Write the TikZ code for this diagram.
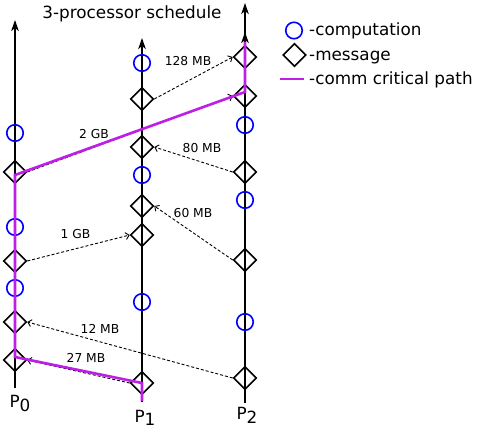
\documentclass[tikz,border=0pt]{standalone}
\usepackage{fontspec}
\setmainfont{DejaVu Sans}
\usetikzlibrary{shapes.geometric,arrows.meta}
\definecolor{crit}{RGB}{190,30,230}
\begin{document}
\begin{tikzpicture}[x=1pt,y=-1pt,
  comp/.style={circle,draw=blue,line width=1.6pt,minimum size=16.5pt,inner sep=0pt},
  msg/.style={diamond,draw=black,line width=1.6pt,minimum width=23pt,minimum height=23pt,inner sep=0pt},
  axis/.style={line width=1.7pt,-{Stealth[length=11pt,width=7.5pt,inset=3pt]}},
  sendarrow/.style={line width=0.9pt,dash pattern=on 3pt off 2pt,-{Straight Barb[length=3.5pt,width=7pt]}},
  critpath/.style={draw=crit,line width=2.6pt},
  lbl/.style={font=\fontsize{12.3}{14}\selectfont,anchor=base,inner sep=0pt},
  big/.style={font=\fontsize{16.8}{20}\selectfont,inner sep=0pt},
]
\useasboundingbox (0,0) rectangle (478,428);

% axes
\coordinate (p0b) at (15,388); \coordinate (p0t) at (15,20);
\coordinate (p1b) at (142,402); \coordinate (p1t) at (142,38);
\coordinate (p2b) at (245,403); \coordinate (p2t) at (245,3);
\draw[axis] (p0b) -- (p0t);
\draw[axis] (p1b) -- (p1t);
\draw[axis] (p2b) -- (p2t);

% P0
\node[comp] (c01) at (15,133) {};
\node[msg]  (m01) at (15,172) {};
\node[comp] (c02) at (15,227) {};
\node[msg]  (m02) at (15,261) {};
\node[comp] (c03) at (15,288) {};
\node[msg]  (m03) at (15,322) {};
\node[msg]  (m04) at (15,360) {};
% P1
\node[comp] (c11) at (142,63) {};
\node[msg]  (m11) at (142,99) {};
\node[msg]  (m12) at (142,147) {};
\node[comp] (c12) at (142,175) {};
\node[msg]  (m13) at (142,206) {};
\node[msg]  (m14) at (142,235) {};
\node[comp] (c13) at (142,302) {};
\node[msg]  (m15) at (142,383) {};
% P2
\node[msg]  (m21) at (245,57) {};
\node[msg]  (m22) at (245,96) {};
\node[comp] (c21) at (245,125) {};
\node[msg]  (m23) at (245,172) {};
\node[comp] (c22) at (245,200) {};
\node[msg]  (m24) at (245,260) {};
\node[comp] (c23) at (245,322) {};
\node[msg]  (m25) at (245,378) {};

% messages
\draw[sendarrow] (m11.east) -- (m21.west);
\draw[sendarrow] (m01.east) -- (m22.west);
\draw[sendarrow] (m23.west) -- (m12.east);
\draw[sendarrow] (m24.west) -- (m13.east);
\draw[sendarrow] (m02.east) -- (m14.west);
\draw[sendarrow] (m25.west) -- (m03.east);
\draw[sendarrow] (m15.west) -- (m04.east);

% critical path
\coordinate (crittop) at (245,42);
\draw[critpath] ([yshift=-18pt]m15.center) -- (m15.center) -- ([yshift=3pt]m04.center)
  -- ([yshift=-3pt]m01.center) -- ([yshift=4pt]m22.center) -- (crittop);
\draw[axis] (crittop) -- ++(0,-10);

% message labels
\node[lbl] (l128) at (188,65) {128 MB};
\node[lbl] (l2g)  at (94,138) {2 GB};
\node[lbl] (l80)  at (202,152) {80 MB};
\node[lbl] (l60)  at (193,217) {60 MB};
\node[lbl] (l1g)  at (75.5,238) {1 GB};
\node[lbl] (l12)  at (100,333) {12 MB};
\node[lbl] (l27)  at (86,362) {27 MB};

% processor labels
\node[big,anchor=base] (n0) at (20,407.5) {P\raisebox{-3.5pt}{0}};
\node[big,anchor=base] (n1) at (145,422) {P\raisebox{-3.5pt}{1}};
\node[big,anchor=base] (n2) at (247,419.5) {P\raisebox{-3.5pt}{2}};

% title
\node[big,anchor=base] (title) at (132,18.5) {3-processor schedule};

% legend
\node[comp] (lc) at (294,30.5) {};
\node[big,anchor=base west] (lct) at (309,36) {-computation};
\node[msg] (lm) at (294.5,55) {};
\node[big,anchor=base west] (lmt) at (309,60) {-message};
\coordinate (la) at (280,79); \coordinate (lb) at (304,79);
\draw[critpath] (la) -- (lb);
\node[big,anchor=base west] (lpt) at (309,84) {-comm critical path};
\end{tikzpicture}
\end{document}
